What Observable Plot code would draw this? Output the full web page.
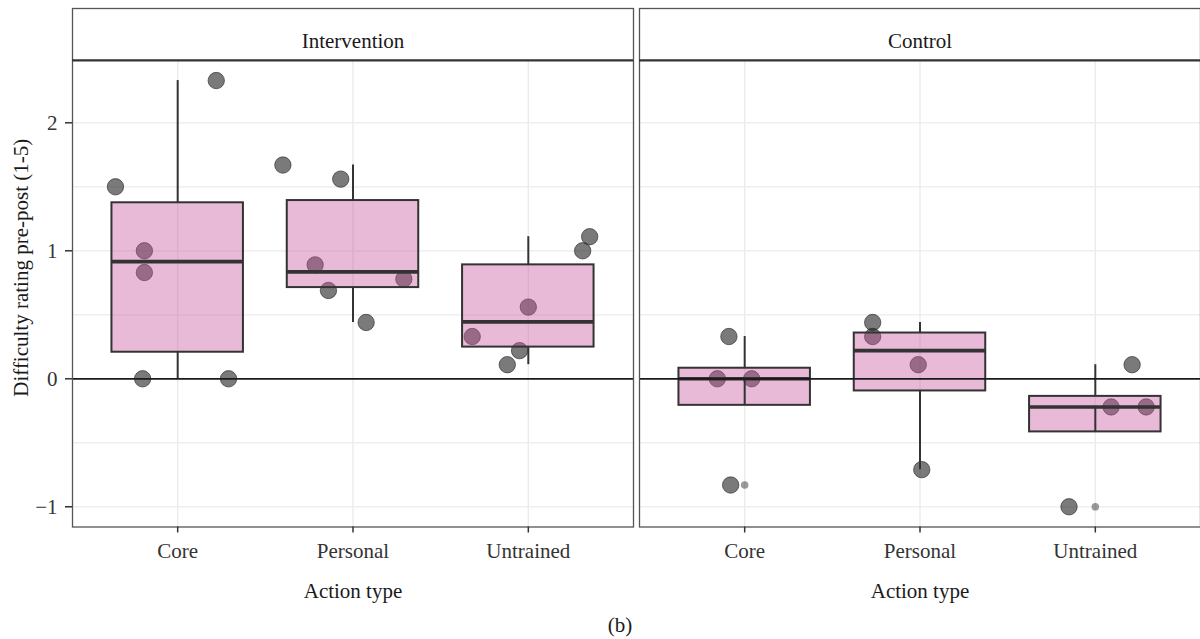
<!DOCTYPE html>
<html>
<head>
<meta charset="utf-8">
<script src="https://cdn.jsdelivr.net/npm/d3@7"></script>
<script src="https://cdn.jsdelivr.net/npm/@observablehq/plot@0.6"></script>
<style>
  html, body { margin: 0; padding: 0; background: #fff; }
  #caption { width: 1200px; height: 32px; line-height: 36px; text-align: center; box-sizing: border-box; padding-left: 40px;
    font-family: "Liberation Serif", serif; font-size: 21px; color: #1a1a1a; }
</style>
</head>
<body>
<div id="chart"></div>
<div id="caption">(b)</div>
<script>
// ---- data ----
const groups = ["Intervention", "Control"];
const actionTypes = ["Core", "Personal", "Untrained"];
const yTicks = [-1, 0, 1, 2];
const yGrid = [-1, -0.5, 0.5, 1, 1.5, 2];
const yTitle = "Difficulty rating pre-post (1-5)";
const xTitle = "Action type";

const interventionCore = [2.33, 1.5, 1.0, 0.83, 0, 0];
const interventionCoreJitter = [0.22, -0.355, -0.19, -0.19, -0.2, 0.29];
const interventionPersonal = [1.67, 1.56, 0.89, 0.69, 0.44, 0.78];
const interventionPersonalJitter = [-0.40, -0.07, -0.216, -0.14, 0.075, 0.29];
const interventionUntrained = [1.11, 1.0, 0.56, 0.33, 0.22, 0.11];
const interventionUntrainedJitter = [0.35, 0.31, 0.0, -0.32, -0.05, -0.12];
const controlCore = [0.33, 0, 0, -0.83];
const controlCoreJitter = [-0.09, -0.156, 0.04, -0.08];
const controlPersonal = [0.44, 0.33, 0.11, -0.71];
const controlPersonalJitter = [-0.27, -0.27, -0.01, 0.01];
const controlUntrained = [0.11, -0.22, -0.22, -1.0];
const controlUntrainedJitter = [0.21, 0.09, 0.29, -0.15];

// ---- build tables ----
const series = [
  ["Intervention", "Core", interventionCore, interventionCoreJitter],
  ["Intervention", "Personal", interventionPersonal, interventionPersonalJitter],
  ["Intervention", "Untrained", interventionUntrained, interventionUntrainedJitter],
  ["Control", "Core", controlCore, controlCoreJitter],
  ["Control", "Personal", controlPersonal, controlPersonalJitter],
  ["Control", "Untrained", controlUntrained, controlUntrainedJitter]
];
const points = [];
const stats = [];
const outliers = [];
for (const [group, type, vals, jit] of series) {
  const xi = actionTypes.indexOf(type) + 1;
  vals.forEach((v, i) => points.push({group, type, xi, value: v, jitter: jit[i]}));
  const s = vals.slice().sort(d3.ascending);
  const q1 = d3.quantile(s, 0.25), med = d3.quantile(s, 0.5), q3 = d3.quantile(s, 0.75);
  const iqr = q3 - q1;
  const lo = d3.min(s.filter(v => v >= q1 - 1.5 * iqr));
  const hi = d3.max(s.filter(v => v <= q3 + 1.5 * iqr));
  stats.push({group, type, xi, q1, med, q3, lo, hi});
  s.filter(v => v < q1 - 1.5 * iqr || v > q3 + 1.5 * iqr).forEach(v => outliers.push({group, xi, value: v}));
}

// ---- layout (scale domain includes the facet strip) ----
const yMin = -1.158, panelTop = 2.487, yMax = 2.893;
const boxHalf = 0.375;
const ink = "#333333";
const fs = 21;

const chart = Plot.plot({
  width: 1200,
  height: 607,
  marginLeft: 72,
  marginRight: 0,
  marginTop: 8,
  marginBottom: 80.5,
  style: {fontFamily: "'Liberation Serif', 'DejaVu Serif', serif", fontSize: fs + "px", color: ink, background: "#fff"},
  x: {domain: [0.4, 3.6]},
  y: {domain: [yMin, yMax]},
  fx: {domain: groups, paddingInner: 6 / 567, paddingOuter: 0, round: false, axis: null},
  marks: [
    Plot.ruleY(yGrid, {stroke: "#ebebeb", strokeWidth: 1.2}),
    Plot.ruleX([1, 2, 3], {y1: yMin, y2: panelTop, stroke: "#ebebeb", strokeWidth: 1.4}),
    Plot.dot(points, {x: d => d.xi + d.jitter, y: "value", fx: "group", r: 8.2,
      fill: "#222", fillOpacity: 0.6, stroke: "#222", strokeOpacity: 0.6, strokeWidth: 1}),
    Plot.dot(outliers, {x: "xi", y: "value", fx: "group", r: 3.8, fill: "#222", fillOpacity: 0.45, stroke: "none"}),
    Plot.rect(stats, {x1: d => d.xi - boxHalf, x2: d => d.xi + boxHalf, y1: "q1", y2: "q3", fx: "group",
      fill: "rgb(200,80,158)", fillOpacity: 0.4, stroke: ink, strokeWidth: 2}),
    Plot.ruleX(stats, {x: "xi", y1: "q3", y2: "hi", fx: "group", stroke: ink, strokeWidth: 2}),
    Plot.ruleX(stats, {x: "xi", y1: "lo", y2: "q1", fx: "group", stroke: ink, strokeWidth: 2}),
    Plot.ruleY(stats, {y: "med", x1: d => d.xi - boxHalf, x2: d => d.xi + boxHalf, fx: "group", stroke: ink, strokeWidth: 3.6}),
    Plot.ruleY([0], {stroke: "#1a1a1a", strokeWidth: 1.8}),
    Plot.frame({stroke: "#555", strokeWidth: 1.3}),
    Plot.ruleY([panelTop], {stroke: "#333", strokeWidth: 2.2}),
    Plot.text(groups, {fx: d => d, text: d => d, x: 2, frameAnchor: "top", lineAnchor: "middle", dy: 33, fill: "#1a1a1a", fontSize: fs}),
    Plot.axisY({ticks: yTicks, tickSize: 7, tickPadding: 8, tickFormat: d => d < 0 ? "\u2212" + (-d) : String(d),
      label: null, stroke: ink, strokeWidth: 1.5, fill: ink}),
    Plot.axisX({ticks: [1, 2, 3], tickSize: 6, tickPadding: 10, tickFormat: d => actionTypes[d - 1],
      label: null, stroke: ink, strokeWidth: 1.5, fill: ink}),
    Plot.text(groups, {fx: d => d, text: () => xTitle, x: 2, frameAnchor: "bottom", lineAnchor: "middle", dy: 64, fill: "#1a1a1a", fontSize: fs}),
    Plot.text([groups[0]], {fx: d => d, text: () => yTitle, frameAnchor: "left", rotate: -90, textAnchor: "middle",
      lineAnchor: "middle", dx: -51, fill: "#1a1a1a", fontSize: fs})
  ]
});
document.getElementById("chart").appendChild(chart);
</script>
</body>
</html>
